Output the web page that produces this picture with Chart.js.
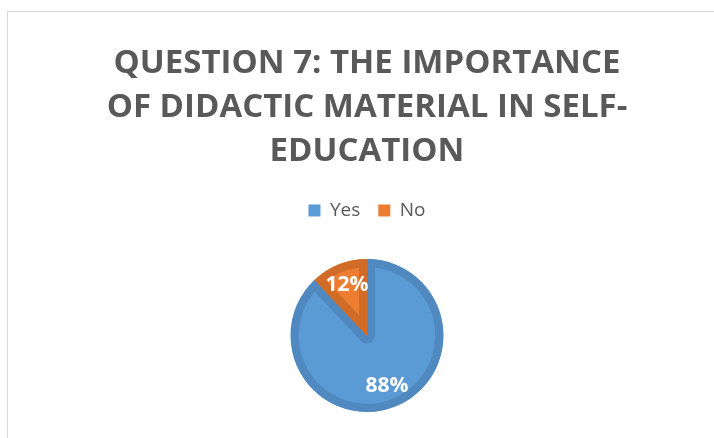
<!DOCTYPE html>
<html>
<head>
<meta charset="utf-8">
<script src="https://cdn.jsdelivr.net/npm/chart.js@4"></script>
<style>
  html, body { margin: 0; padding: 0; background: #fff; }
  #frame { position: absolute; left: 7px; top: 11px; width: 720px; height: 440px; border: 1px solid #d9d9d9; }
  #wrap { position: absolute; left: 0; top: 0; width: 714px; height: 438px; }
</style>
</head>
<body>
<div id="frame"></div>
<div id="wrap"><canvas id="q7"></canvas></div>
<script>
// question 7 - pie chart
const titleLines = ['QUESTION 7: THE IMPORTANCE', 'OF DIDACTIC MATERIAL IN SELF-', 'EDUCATION'];
const labelsQ7 = ['Yes', 'No'];
const valuesQ7 = [88, 12];
const fillColors = ['#5b9bd5', '#ed7d31'];
const edgeColors = ['#4f89c0', '#d06c28'];

// percentage labels inside the slices
const sliceLabels = {
  id: 'sliceLabels',
  afterDatasetsDraw(chart) {
    const ctx = chart.ctx;
    const meta = chart.getDatasetMeta(0);
    const total = valuesQ7.reduce((a, b) => a + b, 0);
    ctx.save();
    ctx.fillStyle = '#ffffff';
    ctx.font = 'bold 21px "Open Sans"';
    ctx.textAlign = 'center';
    ctx.textBaseline = 'middle';
    meta.data.forEach((arc, i) => {
      const p = arc.getProps(['x', 'y', 'startAngle', 'endAngle', 'outerRadius'], true);
      const mid = (p.startAngle + p.endAngle) / 2;
      const r = p.outerRadius * 0.71;
      const pct = Math.round(valuesQ7[i] / total * 100) + '%';
      ctx.fillText(pct, p.x + Math.cos(mid) * r, p.y + Math.sin(mid) * r);
    });
    ctx.restore();
  }
};

// extra room under the legend
const legendGap = {
  id: 'legendGap',
  beforeInit(chart) {
    const fit = chart.legend.fit;
    chart.legend.fit = function () {
      fit.bind(chart.legend)();
      this.height += 29;
    };
  }
};

const dataQ7 = {
  labels: labelsQ7,
  datasets: [{
    data: valuesQ7,
    backgroundColor: fillColors,
    borderColor: edgeColors,
    borderWidth: 8,
    borderAlign: 'inner'
  }]
};
const configQ7 = {
  type: 'pie',
  data: dataQ7,
  options: {
    responsive: true,
    maintainAspectRatio: false,
    animation: false,
    layout: { padding: { top: 0, bottom: 26, left: 20, right: 0 } },
    plugins: {
      title: {
        display: true,
        text: titleLines,
        color: '#595959',
        font: { family: 'Open Sans', weight: 'bold', size: 33, lineHeight: 1.333 },
        padding: { top: 42, bottom: 9 }
      },
      legend: {
        position: 'top',
        labels: {
          color: '#595959',
          font: { family: 'Open Sans', size: 19 },
          boxWidth: 12,
          boxHeight: 12,
          padding: 18,
          generateLabels(chart) {
            return labelsQ7.map((l, i) => ({
              text: l,
              fillStyle: fillColors[i],
              strokeStyle: fillColors[i],
              lineWidth: 0,
              fontColor: '#595959',
              index: i
            }));
          }
        }
      },
      tooltip: { enabled: false }
    }
  },
  plugins: [sliceLabels, legendGap]
};
const ChartQ7 = new Chart(document.getElementById('q7'), configQ7);
</script>
</body>
</html>
